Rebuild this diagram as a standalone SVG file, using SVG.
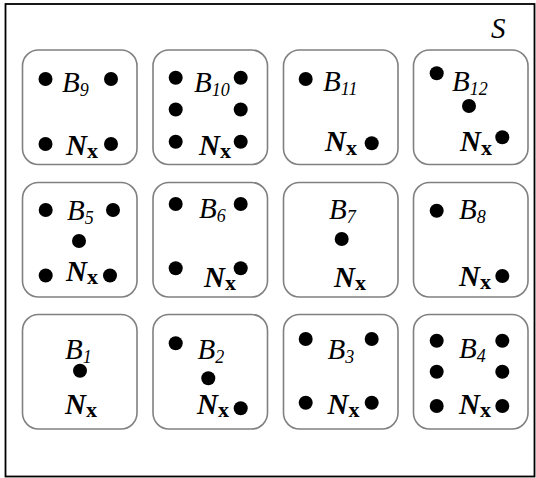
<svg xmlns="http://www.w3.org/2000/svg" width="536" height="478" viewBox="0 0 536 478">
<style>
.box{fill:#fff;stroke:#808080;stroke-width:1.6}
.d{fill:#000}
.b{font-family:"Liberation Serif",serif;font-style:italic;font-size:29px;fill:#000}
.s{font-size:18px}
.n{font-family:"Liberation Serif",serif;font-style:italic;font-weight:bold;font-size:29px;fill:#000}
.x{font-style:normal;font-size:22px}
</style>
<rect x="5.5" y="4" width="529" height="472.5" fill="#fff" stroke="#000" stroke-width="1.8"/>
<text x="491" y="38" class="b">S</text>
<g id="connectors"/>
<g id="B9">
<rect class="box" x="22.5" y="50" width="114.5" height="114.5" rx="16"/>
<circle class="d" cx="45.5" cy="79" r="7"/><circle class="d" cx="111" cy="79" r="7"/>
<circle class="d" cx="45.5" cy="144" r="7"/><circle class="d" cx="111" cy="144" r="7"/>
<text class="b" x="62" y="92">B<tspan class="s" dy="4">9</tspan></text>
<text class="n" x="66" y="155">N<tspan class="x" dy="3">x</tspan></text>
</g>
<g id="B10">
<rect class="box" x="153" y="50" width="114.5" height="114.5" rx="16"/>
<circle class="d" cx="175.7" cy="77.7" r="7"/><circle class="d" cx="240.7" cy="77.7" r="7"/>
<circle class="d" cx="175.7" cy="109.5" r="7"/><circle class="d" cx="240.7" cy="109.5" r="7"/>
<circle class="d" cx="175.7" cy="141.7" r="7"/><circle class="d" cx="240.7" cy="141.7" r="7"/>
<text class="b" x="194" y="91.5">B<tspan class="s" dy="4">10</tspan></text>
<text class="n" x="199" y="155">N<tspan class="x" dy="3">x</tspan></text>
</g>
<g id="B11">
<rect class="box" x="283.5" y="50" width="114.5" height="114.5" rx="16"/>
<circle class="d" cx="305.7" cy="79" r="7"/><circle class="d" cx="371.7" cy="143.3" r="7"/>
<text class="b" x="323" y="90.5">B<tspan class="s" dy="4">11</tspan></text>
<text class="n" x="325" y="151">N<tspan class="x" dy="4">x</tspan></text>
</g>
<g id="B12">
<rect class="box" x="413.5" y="50" width="114.5" height="114.5" rx="16"/>
<circle class="d" cx="436.7" cy="73.3" r="7"/><circle class="d" cx="469" cy="106" r="7"/><circle class="d" cx="502.3" cy="137.3" r="7"/>
<text class="b" x="452" y="90.5">B<tspan class="s" dy="4">12</tspan></text>
<text class="n" x="460" y="151">N<tspan class="x" dy="4">x</tspan></text>
</g>
<g id="B5">
<rect class="box" x="22.5" y="182.5" width="114.5" height="114.5" rx="16"/>
<circle class="d" cx="45.7" cy="210" r="7"/><circle class="d" cx="113" cy="210" r="7"/>
<circle class="d" cx="79" cy="241" r="7"/>
<circle class="d" cx="45.7" cy="275.5" r="7"/><circle class="d" cx="110" cy="275.5" r="7"/>
<text class="b" x="67" y="220">B<tspan class="s" dy="4">5</tspan></text>
<text class="n" x="66" y="281">N<tspan class="x" dy="3">x</tspan></text>
</g>
<g id="B6">
<rect class="box" x="153" y="182.5" width="114.5" height="114.5" rx="16"/>
<circle class="d" cx="175.7" cy="204" r="7"/><circle class="d" cx="240.7" cy="204" r="7"/>
<circle class="d" cx="175.7" cy="268.3" r="7"/><circle class="d" cx="240.7" cy="268.3" r="7"/>
<text class="b" x="199" y="218">B<tspan class="s" dy="4">6</tspan></text>
<text class="n" x="204" y="287">N<tspan class="x" dy="3">x</tspan></text>
</g>
<g id="B7">
<rect class="box" x="283.5" y="182.5" width="114.5" height="114.5" rx="16"/>
<circle class="d" cx="341.7" cy="239" r="7"/>
<text class="b" x="329" y="219">B<tspan class="s" dy="4">7</tspan></text>
<text class="n" x="334" y="287">N<tspan class="x" dy="3">x</tspan></text>
</g>
<g id="B8">
<rect class="box" x="413.5" y="182.5" width="114.5" height="114.5" rx="16"/>
<circle class="d" cx="436.7" cy="210.7" r="7"/><circle class="d" cx="502.3" cy="276" r="7"/>
<text class="b" x="459" y="219">B<tspan class="s" dy="4">8</tspan></text>
<text class="n" x="459" y="286">N<tspan class="x" dy="3">x</tspan></text>
</g>
<g id="B1">
<rect class="box" x="22.5" y="314.5" width="114.5" height="114.5" rx="16"/>
<circle class="d" cx="80" cy="370.7" r="7"/>
<text class="b" x="65" y="359">B<tspan class="s" dy="4">1</tspan></text>
<text class="n" x="65" y="414">N<tspan class="x" dy="3">x</tspan></text>
</g>
<g id="B2">
<rect class="box" x="153" y="314.5" width="114.5" height="114.5" rx="16"/>
<circle class="d" cx="175.7" cy="343.3" r="7"/><circle class="d" cx="208.3" cy="378.3" r="7"/><circle class="d" cx="240.7" cy="408.3" r="7"/>
<text class="b" x="197.5" y="359">B<tspan class="s" dy="4">2</tspan></text>
<text class="n" x="197" y="414">N<tspan class="x" dy="3">x</tspan></text>
</g>
<g id="B3">
<rect class="box" x="283.5" y="314.5" width="114.5" height="114.5" rx="16"/>
<circle class="d" cx="305.7" cy="339" r="7"/><circle class="d" cx="371.7" cy="339" r="7"/>
<circle class="d" cx="305.7" cy="402.7" r="7"/><circle class="d" cx="371.7" cy="402.7" r="7"/>
<text class="b" x="327.5" y="359">B<tspan class="s" dy="4">3</tspan></text>
<text class="n" x="327.5" y="414">N<tspan class="x" dy="3">x</tspan></text>
</g>
<g id="B4">
<rect class="box" x="413.5" y="314.5" width="114.5" height="114.5" rx="16"/>
<circle class="d" cx="436.7" cy="340.7" r="7"/><circle class="d" cx="502.3" cy="340.7" r="7"/>
<circle class="d" cx="436.7" cy="371.7" r="7"/><circle class="d" cx="502.3" cy="371.7" r="7"/>
<circle class="d" cx="436.7" cy="406" r="7"/><circle class="d" cx="502.3" cy="406" r="7"/>
<text class="b" x="459" y="358">B<tspan class="s" dy="4">4</tspan></text>
<text class="n" x="459" y="414">N<tspan class="x" dy="3">x</tspan></text>
</g>
</svg>
